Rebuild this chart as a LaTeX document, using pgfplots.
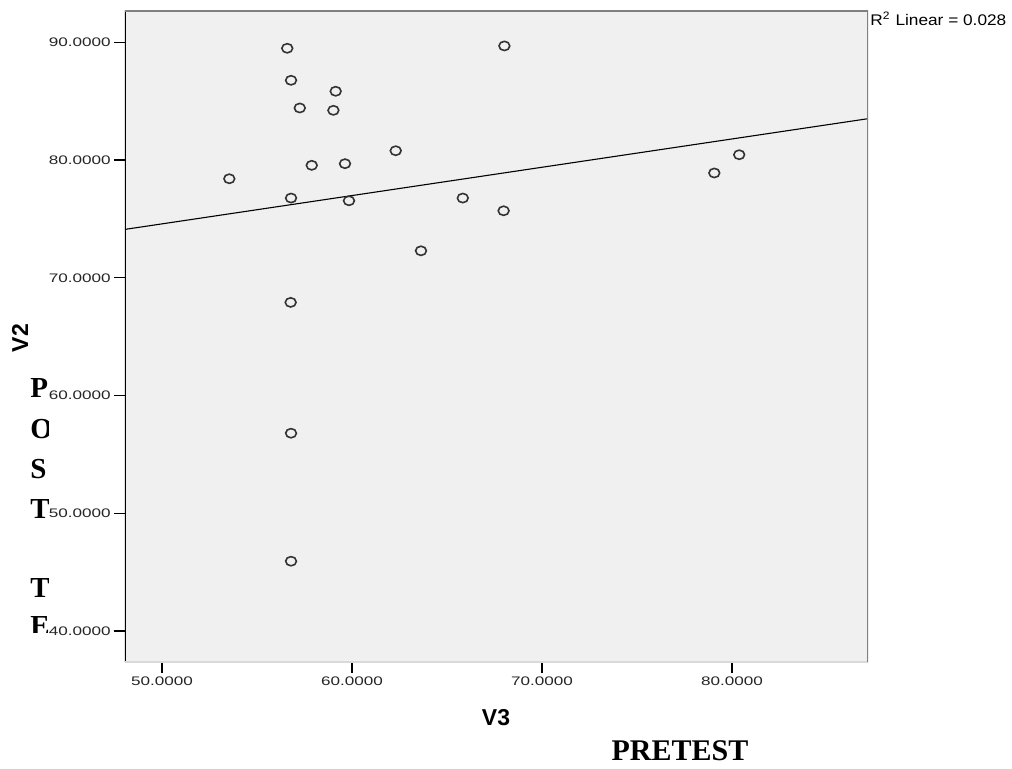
\documentclass[border=0pt]{standalone}
\usepackage{fontspec}
\setmainfont{Liberation Sans}
\newfontfamily\timesfont{Liberation Serif}
\usepackage{pgfplots}
\pgfplotsset{compat=1.18}
\definecolor{spssbg}{RGB}{240,240,240}
\definecolor{framegray}{RGB}{128,128,128}

% PRETEST (V3) against POSTTEST (V2)
\pgfplotstableread{
x y
56.59 89.49
56.79 86.77
59.14 85.84
57.25 84.42
59.02 84.22
62.30 80.79
57.88 79.55
59.63 79.69
53.54 78.41
56.79 76.77
59.84 76.54
56.77 67.91
68.02 89.69
65.83 76.77
67.98 75.69
63.63 72.29
80.38 80.45
79.07 78.90
56.79 56.80
56.79 45.93
}\scores

\begin{document}
\begin{tikzpicture}
\useasboundingbox (0,0) rectangle (506pt,384pt);
\begin{axis}[
  at={(62.5pt,53pt)}, anchor=south west,
  scale only axis,
  width=371.5pt, height=326pt,
  xmin=48.05, xmax=87.16,
  ymin=37.37, ymax=92.74,
  xtick={50,60,70,80},
  ytick={40,50,60,70,80,90},
  xtick pos=bottom, ytick pos=left,
  tick align=outside,
  major tick length=5.5pt,
  tick style={black, line width=0.7pt},
  axis line style={draw=none},
  axis background/.style={fill=spssbg},
  /pgf/number format/fixed,
  /pgf/number format/fixed zerofill,
  /pgf/number format/precision=4,
  /pgf/number format/assume math mode=true,
  ticklabel style={font=\fontsize{6.2}{7}\selectfont, xscale=1.38, text=black!85},
  yticklabel style={inner sep=1pt},
  xticklabel style={inner sep=1.5pt},
  xlabel={V3},
  ylabel={V2},
  label style={font=\fontsize{11.5}{13}\selectfont\bfseries},
  xlabel style={at={(axis description cs:0.4993,-0.086)}, anchor=center},
  ylabel style={at={(axis description cs:-0.1413,0.497)}, anchor=center},
]
\addplot[only marks, mark=o, mark size=2.3pt,
  mark options={xscale=1.17, line width=0.8pt, draw=black!80}] table {\scores};
\addplot[black, line width=0.55pt] coordinates {(48.05,74.11) (87.16,83.51)};
\draw[black, line width=1pt] (rel axis cs:0,0) -- (rel axis cs:0,1);
\draw[black!15, line width=0.6pt] (rel axis cs:0,0) -- (rel axis cs:1,0);
\draw[framegray, line width=1.5pt] (rel axis cs:0,1) -- (rel axis cs:1,1) -- (rel axis cs:1,0);
\end{axis}
\node[anchor=north west, inner sep=0pt, font=\fontsize{7.7}{9}\selectfont, xscale=1.12]
  at (435pt,378pt) {R\textsuperscript{2} Linear = 0.028};
\node[font=\timesfont\bfseries\fontsize{15}{18}\selectfont, inner sep=0pt]
  at (340pt,8.5pt) {PRETEST};
\begin{scope}
\clip (0pt,68pt) rectangle (24pt,384pt);
\foreach \l/\b in {P/185.5, O/165, S/145, T/125, T/85.5, E/66.5}
  \node[anchor=base west, inner sep=0pt, font=\timesfont\bfseries\fontsize{14.5}{17}\selectfont]
    at (15pt,\b pt) {\l};
\end{scope}
\end{tikzpicture}
\end{document}
